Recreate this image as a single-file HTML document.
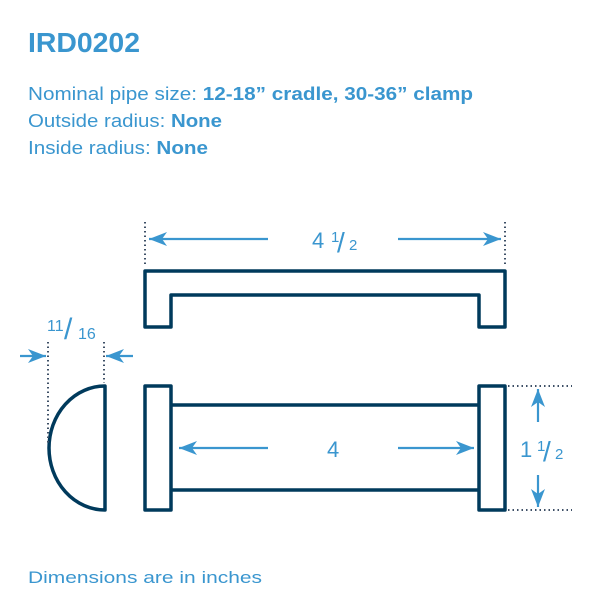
<!DOCTYPE html>
<html><head><style>
html,body{margin:0;padding:0;background:#fff;}
svg{display:block;font-family:"Liberation Sans",sans-serif;}
</style></head><body>
<svg width="600" height="600" viewBox="0 0 600 600" xmlns="http://www.w3.org/2000/svg">
<defs>
<marker id="ah" viewBox="0 0 18 14" refX="18" refY="7" markerWidth="18" markerHeight="14" markerUnits="userSpaceOnUse" orient="auto">
<path d="M0,0 L18,7 L0,14 L5,7 z" fill="#3a96cf"/>
</marker>
</defs>
<g fill="#3a96cf">
<text x="28" y="52" font-size="28" font-weight="bold" textLength="112" lengthAdjust="spacingAndGlyphs">IRD0202</text>
<text x="28" y="100" font-size="18" textLength="445" lengthAdjust="spacingAndGlyphs">Nominal pipe size: <tspan font-weight="bold">12-18” cradle, 30-36” clamp</tspan></text>
<text x="28" y="127" font-size="18" textLength="194" lengthAdjust="spacingAndGlyphs">Outside radius: <tspan font-weight="bold">None</tspan></text>
<text x="28" y="154" font-size="18" textLength="180" lengthAdjust="spacingAndGlyphs">Inside radius: <tspan font-weight="bold">None</tspan></text>
<text x="28" y="583" font-size="17" textLength="234" lengthAdjust="spacingAndGlyphs">Dimensions are in inches</text>
</g>
<g fill="none" stroke="#003a5c" stroke-width="3.5" stroke-linejoin="round">
<path d="M145,271 L505,271 L505,327 L479,327 L479,295 L171,295 L171,327 L145,327 Z"/>
<rect x="145" y="386" width="26" height="124"/>
<rect x="479" y="386" width="26" height="124"/>
<line x1="171" y1="405" x2="479" y2="405"/>
<line x1="171" y1="490" x2="479" y2="490"/>
<path d="M105,386 L105,510 A56,62 0 0 1 105,386 Z"/>
</g>
<g stroke="#3d4f66" stroke-width="2" stroke-dasharray="1.5,3" fill="none">
<line x1="145" y1="222" x2="145" y2="266"/>
<line x1="505" y1="222" x2="505" y2="266"/>
<line x1="48" y1="342" x2="48" y2="445"/>
<line x1="104" y1="342" x2="104" y2="383"/>
<line x1="508" y1="386" x2="572" y2="386"/>
<line x1="508" y1="510" x2="572" y2="510"/>
</g>
<g stroke="#3a96cf" stroke-width="2.2" fill="none" marker-end="url(#ah)">
<line x1="268" y1="239" x2="149" y2="239"/>
<line x1="398" y1="239" x2="501" y2="239"/>
<line x1="268" y1="448" x2="179" y2="448"/>
<line x1="398" y1="448" x2="474" y2="448"/>
<line x1="20" y1="356" x2="46" y2="356"/>
<line x1="133" y1="356" x2="106" y2="356"/>
<line x1="538" y1="422" x2="538" y2="389"/>
<line x1="538" y1="475" x2="538" y2="507"/>
</g>
<g fill="#3a96cf" font-size="22">
<text x="312" y="248">4</text>
<text x="331" y="242" font-size="15">1</text>
<text x="337" y="252" font-size="28" transform="skewX(0)">/</text>
<text x="349" y="250" font-size="15">2</text>
<text x="327" y="457">4</text>
<text x="520" y="457">1</text>
<text x="537" y="451" font-size="15">1</text>
<text x="543" y="461" font-size="28">/</text>
<text x="555" y="459" font-size="15">2</text>
<text x="47" y="331" font-size="16">11</text>
<text x="64" y="339" font-size="30">/</text>
<text x="78" y="339" font-size="16">16</text>
</g>
</svg>
</body></html>
